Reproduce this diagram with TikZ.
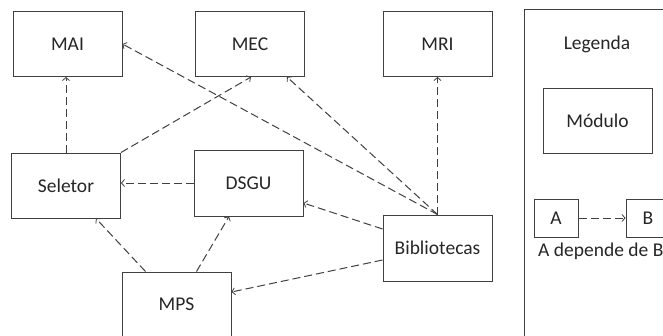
\documentclass[tikz,border=0pt]{standalone}
\usepackage{fontspec}
\setmainfont{Carlito}
\usetikzlibrary{arrows.meta,calc}
\definecolor{linegrey}{HTML}{404040}
\definecolor{txt}{HTML}{262626}
\tikzset{
  modbox/.style={draw=linegrey, line width=1pt, minimum width=109pt, minimum height=65pt, inner sep=0pt, text=txt, font=\fontsize{19.5}{21}\selectfont},
  smallbox/.style={modbox, minimum width=44pt, minimum height=38pt},
  dep/.style={draw=linegrey, line width=1pt, dash pattern=on 8pt off 4pt, -{Straight Barb[length=3pt,width=7pt,line width=0.8pt]}},
  lbl/.style={text=txt, font=\fontsize{19.5}{21}\selectfont, inner sep=0pt}
}
\begin{document}
\begin{tikzpicture}[x=1pt,y=-1pt]
\useasboundingbox (0,0) rectangle (663,335);
\clip (0,0) rectangle (663,335);
\fill[white] (0,0) rectangle (663,335);
% modules
\node[modbox] (MAI) at (67.5,44) {MAI};
\node[modbox] (MEC) at (250,44) {MEC};
\node[modbox] (MRI) at (437.5,44) {MRI};
\node[modbox] (SEL) at (66,185.5) {Seletor};
\node[modbox, minimum height=66pt] (DSGU) at (248.5,183) {DSGU};
\node[modbox] (MPS) at (176.5,304.5) {MPS};
\node[modbox, minimum height=66pt] (BIB) at (437.5,248) {Bibliotecas};
% legend
\node[draw=linegrey, line width=1pt, minimum width=170pt, minimum height=340pt, inner sep=0pt] (LEG) at (609,179) {};
\node[lbl] (LEGT) at (597,44) {Legenda};
\node[modbox] (MOD) at (597.5,120.5) {Módulo};
\node[smallbox] (A) at (556,218) {A};
\node[smallbox] (B) at (648,218) {B};
\node[lbl, anchor=west] (DEP) at (538,251) {A depende de B};
% dependencies
\draw[dep] (SEL.north) -- (SEL.north |- MAI.south);
\draw[dep] (SEL.north east) -- ([xshift=1pt]MEC.south);
\draw[dep] (BIB.north) -- (MAI.east);
\draw[dep] (BIB.north) -- ([xshift=37pt]MEC.south);
\draw[dep] (BIB.north) -- (MRI.south);
\draw[dep] (DSGU.west) -- (DSGU.west -| SEL.east);
\draw[dep] ([xshift=24pt]MPS.north west) -- ([xshift=30pt]SEL.south);
\draw[dep] ([xshift=20pt]MPS.north) -- ([xshift=-19.5pt]DSGU.south);
\draw[dep] ([yshift=19pt]BIB.west) -- ([yshift=-20pt]DSGU.east);
\draw[dep] ([yshift=-12pt]BIB.west) -- ([yshift=12.5pt]MPS.east);
\draw[dep] (A.east) -- (B.west);
\end{tikzpicture}
\end{document}
